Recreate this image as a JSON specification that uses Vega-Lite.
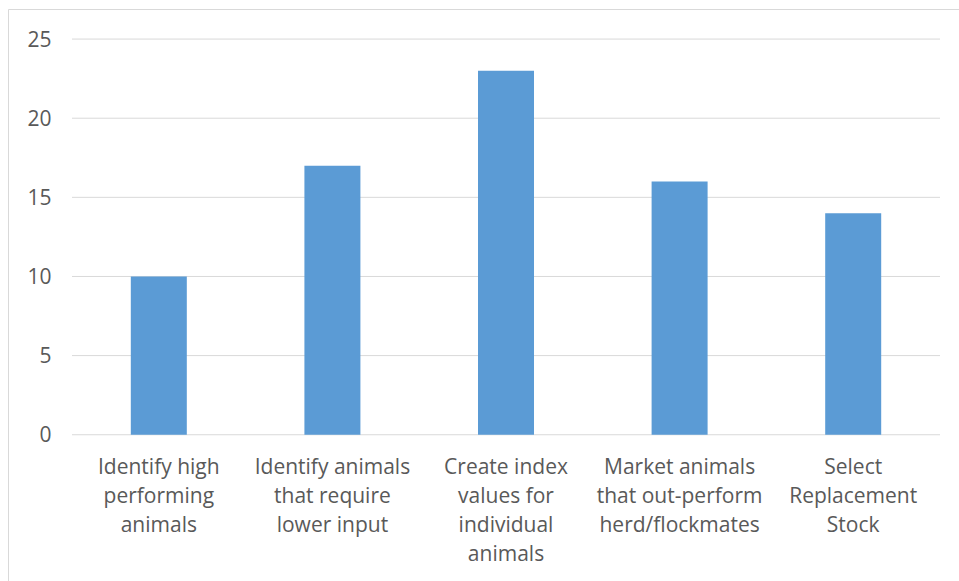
{
  "$schema": "https://vega.github.io/schema/vega-lite/v6.json",
  "autosize": "none",
  "padding": {"left": 8, "top": 9, "right": 0, "bottom": 0},
  "width": 960,
  "height": 584,
  "background": "white",
  "config": {
    "view": {"stroke": "#d9d9d9", "strokeWidth": 1},
    "font": "Open Sans"
  },
  "datasets": {
    "uses": [
      {"use": "Identify high\nperforming\nanimals", "count": 10},
      {"use": "Identify animals\nthat require\nlower input", "count": 17},
      {"use": "Create index\nvalues for\nindividual\nanimals", "count": 23},
      {"use": "Market animals\nthat out-perform\nherd/flockmates", "count": 16},
      {"use": "Select\nReplacement\nStock", "count": 14}
    ],
    "gridlines": [
      {"count": 0}, {"count": 5}, {"count": 10}, {"count": 15}, {"count": 20}, {"count": 25}
    ]
  },
  "layer": [
    {
      "data": {"name": "gridlines"},
      "mark": {"type": "rule", "color": "#d9d9d9", "strokeWidth": 1},
      "encoding": {
        "x": {"datum": "Identify high\nperforming\nanimals", "bandPosition": 0, "type": "nominal"},
        "x2": {"datum": "Select\nReplacement\nStock", "bandPosition": 1},
        "y": {"field": "count", "type": "quantitative"}
      }
    },
    {
      "data": {"name": "uses"},
      "mark": {"type": "bar", "color": "#5b9bd5", "width": 56},
      "encoding": {
        "x": {"field": "use", "type": "nominal", "sort": null},
        "y": {"field": "count", "type": "quantitative"}
      }
    }
  ],
  "encoding": {
    "x": {
      "type": "nominal",
      "scale": {
        "domain": [
          "Identify high\nperforming\nanimals",
          "Identify animals\nthat require\nlower input",
          "Create index\nvalues for\nindividual\nanimals",
          "Market animals\nthat out-perform\nherd/flockmates",
          "Select\nReplacement\nStock"
        ],
        "paddingInner": 0,
        "paddingOuter": 0.265,
        "align": 0.6957
      },
      "axis": {
        "title": null,
        "orient": "bottom",
        "offset": -158,
        "domain": false,
        "ticks": false,
        "tickSize": 0,
        "labelAngle": 0,
        "labelPadding": 21,
        "labelFontSize": 21,
        "labelColor": "#595959",
        "labelLineHeight": 29,
        "labelBaseline": "top",
        "labelExpr": "split(datum.label, '\\n')"
      }
    },
    "y": {
      "type": "quantitative",
      "scale": {"domain": [-10, 26.9], "nice": false, "zero": false},
      "axis": {
        "title": null,
        "values": [0, 5, 10, 15, 20, 25],
        "offset": -64,
        "domain": false,
        "ticks": false,
        "tickSize": 0,
        "grid": false,
        "labelPadding": 21,
        "labelFontSize": 21,
        "labelColor": "#595959",
        "labelOffset": 1
      }
    }
  }
}
